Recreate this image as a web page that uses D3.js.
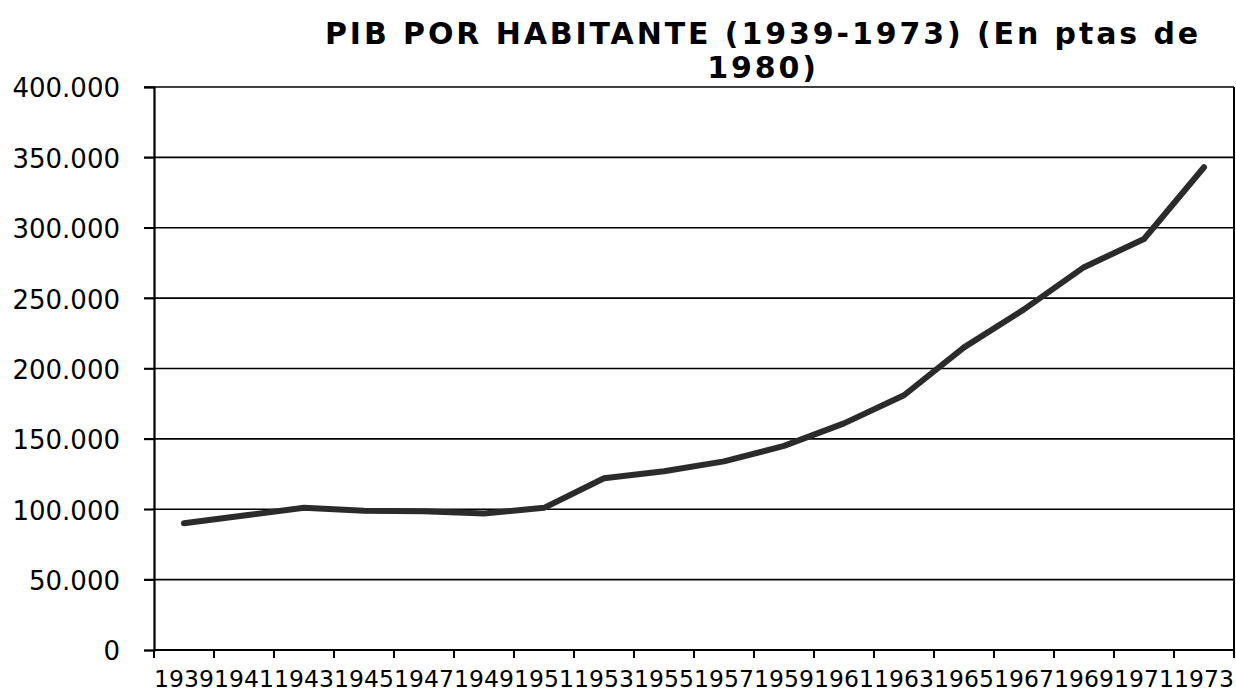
<!DOCTYPE html>
<html>
<head>
<meta charset="utf-8">
<script src="https://cdn.jsdelivr.net/npm/d3@7"></script>
<style>
  body { margin: 0; background: #fff; }
  svg { display: block; }
</style>
</head>
<body>
<svg id="chart" width="1236" height="695"></svg>
<script>
// PIB por habitante, pesetas de 1980
const years = ["1939", "1941", "1943", "1945", "1947", "1949", "1951", "1953", "1955",
               "1957", "1959", "1961", "1963", "1965", "1967", "1969", "1971", "1973"];
const pib = [90000, 95500, 101000, 99000, 98500, 97000, 101000, 122000, 127000,
             134000, 145000, 161000, 181000, 215000, 242000, 272000, 292000, 343000];
const yTicks = [0, 50000, 100000, 150000, 200000, 250000, 300000, 350000, 400000];
const titleLines = ["PIB POR HABITANTE (1939-1973) (En ptas de", "1980)"];

const svg = d3.select("#chart");
const M = { top: 87, right: 2, bottom: 45, left: 154 };
const width = 1236, height = 695;

const es = d3.formatLocale({ decimal: ",", thousands: ".", grouping: [3], currency: ["", " €"] });
const fmt = es.format(",");

const x = d3.scaleBand().domain(years).range([M.left, width - M.right]);
const y = d3.scaleLinear().domain([0, 400000]).range([height - M.bottom, M.top]);

// gridlines
svg.append("g")
    .selectAll("line")
    .data(yTicks.filter(d => d > 0))
    .join("line")
    .attr("x1", M.left - 10)
    .attr("x2", width - M.right)
    .attr("y1", d => y(d))
    .attr("y2", d => y(d))
    .attr("stroke", "#000")
    .attr("stroke-width", 1.6);

// right border of the plot area
svg.append("line")
    .attr("x1", width - M.right).attr("x2", width - M.right)
    .attr("y1", y(400000)).attr("y2", y(0))
    .attr("stroke", "#000").attr("stroke-width", 2);

// y axis
const yaxis = d3.axisLeft(y).tickValues(yTicks).tickSize(10).tickPadding(24).tickFormat(fmt);
const gy = svg.append("g").attr("transform", `translate(${M.left},0)`).call(yaxis);
gy.select(".domain").attr("stroke-width", 2.2);
gy.selectAll(".tick line").attr("stroke-width", 1.6);
gy.selectAll("text")
    .attr("font-family", "DejaVu Sans, Verdana, sans-serif")
    .attr("font-size", 26)
    .attr("fill", "#000")
    .attr("dy", "0.38em");

// x axis: ticks between categories, labels centred
const gx = svg.append("g").attr("transform", `translate(0,${y(0)})`);
gx.append("line")
    .attr("x1", M.left).attr("x2", width - M.right)
    .attr("stroke", "#000").attr("stroke-width", 2);
gx.selectAll(".xtick")
    .data(years.concat(["end"]))
    .join("line")
    .attr("class", "xtick")
    .attr("x1", (d, i) => i < years.length ? x(d) : x(years[years.length - 1]) + x.bandwidth())
    .attr("x2", (d, i) => i < years.length ? x(d) : x(years[years.length - 1]) + x.bandwidth())
    .attr("y1", 0).attr("y2", 8)
    .attr("stroke", "#000").attr("stroke-width", 2);
gx.selectAll("text")
    .data(years)
    .join("text")
    .attr("x", d => x(d) + x.bandwidth() / 2)
    .attr("y", 37)
    .attr("text-anchor", "middle")
    .attr("font-family", "DejaVu Sans, Verdana, sans-serif")
    .attr("font-size", 23.5)
    .attr("fill", "#000")
    .text(d => d);

// the series
const line = d3.line()
    .x((d, i) => x(years[i]) + x.bandwidth() / 2)
    .y(d => y(d));

svg.append("path")
    .datum(pib)
    .attr("fill", "none")
    .attr("stroke", "#2b2b2b")
    .attr("stroke-width", 6)
    .attr("stroke-linejoin", "round")
    .attr("stroke-linecap", "round")
    .attr("d", line);

// title
svg.append("text")
    .attr("text-anchor", "middle")
    .attr("font-family", "DejaVu Sans, Verdana, sans-serif")
    .attr("font-weight", "bold")
    .attr("font-size", 30)
    .attr("letter-spacing", 2.9)
    .attr("fill", "#000")
    .selectAll("tspan")
    .data(titleLines)
    .join("tspan")
    .attr("x", 763)
    .attr("y", (d, i) => 44 + i * 34)
    .text(d => d);
</script>
</body>
</html>
